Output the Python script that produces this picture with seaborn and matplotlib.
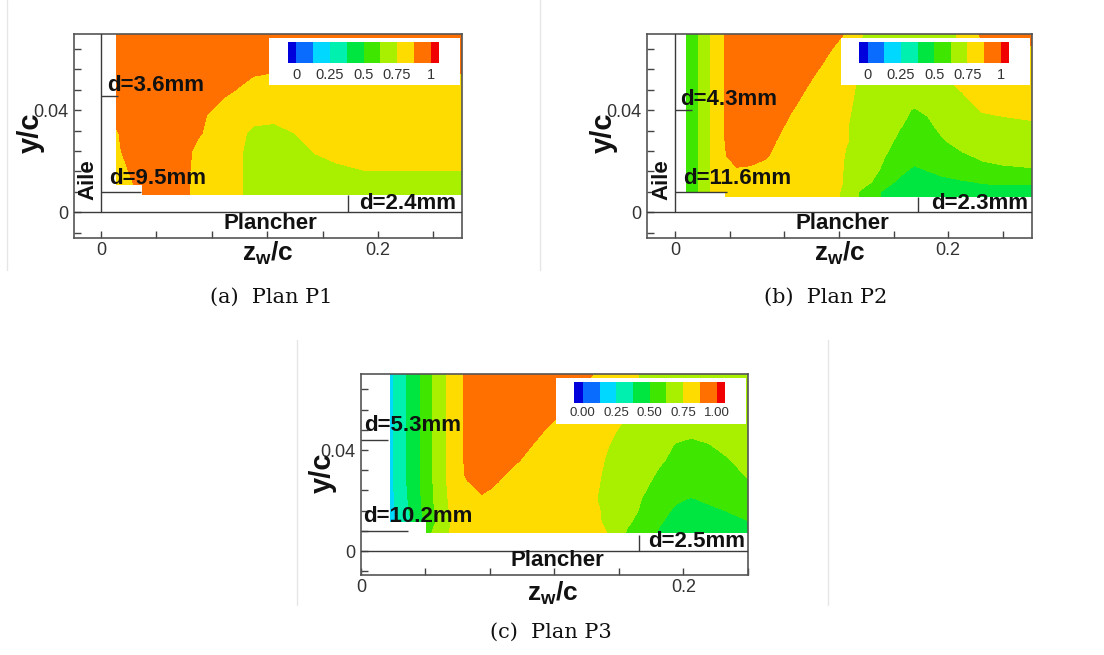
import numpy as np
import matplotlib
matplotlib.use("Agg")
import matplotlib.pyplot as plt
from matplotlib.colors import ListedColormap, BoundaryNorm
from matplotlib.lines import Line2D
from matplotlib.ticker import FixedFormatter, FixedLocator
import seaborn as sns

sns.set_theme(style="ticks")
plt.rcParams["font.family"] = ["Liberation Sans", "DejaVu Sans"]
plt.rcParams["mathtext.fontset"] = "custom"
plt.rcParams["mathtext.rm"] = "Liberation Sans"
plt.rcParams["mathtext.bf"] = "Liberation Sans:bold"
plt.rcParams["mathtext.it"] = "Liberation Sans:italic"

# colour levels of the flood (tecplot style legend)
levels = [-0.0625, 0.0, 0.125, 0.25, 0.375, 0.5, 0.625, 0.75, 0.875, 1.0, 1.0625]
band_colors = ["#0000dc", "#0a6cff", "#00d8ff", "#00f0b0", "#00e640",
               "#3ee600", "#a8f000", "#ffdc00", "#ff7000", "#f00000"]
cbar_ticks = [0, 0.25, 0.5, 0.75, 1.0]
cbar_labels_ab = ["0", "0.25", "0.5", "0.75", "1"]
cbar_labels_c = ["0.00", "0.25", "0.50", "0.75", "1.00"]

x_ticks = [0, 0.04, 0.08, 0.12, 0.16, 0.2, 0.24]
x_ticklabels = ["0", "", "", "", "", "0.2", ""]
y_ticks = [-0.008, 0, 0.008, 0.016, 0.024, 0.032, 0.04, 0.048, 0.056, 0.064]
y_ticklabels = ["", "0", "", "", "", "", "0.04", "", "", ""]

nan = np.nan

# ---- Plan P1 ----
z_a = [0.0113, 0.02, 0.03, 0.045, 0.06, 0.07, 0.08, 0.095, 0.11, 0.125, 0.14,
       0.155, 0.17, 0.19, 0.21, 0.235, 0.2606]
y_a = [0.0068, 0.011, 0.017, 0.024, 0.031, 0.038, 0.045, 0.052, 0.06, 0.07]
u_a = [
    [nan, nan, 0.90, 0.95, 0.90, 0.83, 0.81, 0.78, 0.72, 0.69, 0.69, 0.68, 0.68, 0.69, 0.69, 0.69, 0.69],
    [0.80, 0.85, 0.92, 0.95, 0.90, 0.83, 0.81, 0.78, 0.72, 0.69, 0.69, 0.69, 0.69, 0.69, 0.69, 0.69, 0.69],
    [0.80, 0.88, 0.95, 0.95, 0.91, 0.83, 0.81, 0.78, 0.72, 0.69, 0.69, 0.70, 0.73, 0.755, 0.755, 0.755, 0.755],
    [0.84, 0.93, 0.95, 0.95, 0.92, 0.84, 0.81, 0.78, 0.72, 0.69, 0.69, 0.76, 0.79, 0.80, 0.80, 0.80, 0.80],
    [0.86, 0.94, 0.95, 0.95, 0.93, 0.89, 0.84, 0.79, 0.73, 0.72, 0.75, 0.78, 0.80, 0.80, 0.80, 0.80, 0.80],
    [0.92, 0.95, 0.95, 0.95, 0.94, 0.90, 0.86, 0.82, 0.78, 0.775, 0.78, 0.80, 0.81, 0.81, 0.81, 0.81, 0.81],
    [0.95, 0.95, 0.95, 0.95, 0.95, 0.94, 0.91, 0.85, 0.82, 0.81, 0.81, 0.81, 0.82, 0.82, 0.82, 0.82, 0.82],
    [0.95, 0.95, 0.95, 0.95, 0.95, 0.95, 0.95, 0.93, 0.86, 0.84, 0.845, 0.85, 0.87, 0.89, 0.865, 0.85, 0.85],
    [0.95, 0.95, 0.95, 0.95, 0.95, 0.95, 0.95, 0.95, 0.95, 0.94, 0.93, 0.93, 0.93, 0.94, 0.93, 0.93, 0.93],
    [0.95, 0.95, 0.95, 0.95, 0.95, 0.95, 0.95, 0.95, 0.95, 0.95, 0.95, 0.95, 0.95, 0.95, 0.95, 0.95, 0.95],
]

# ---- Plan P2 ----
z_b = [0.0086, 0.018, 0.027, 0.037, 0.045, 0.055, 0.065, 0.075, 0.085, 0.095, 0.105, 0.115,
       0.125, 0.135, 0.145, 0.155, 0.165, 0.175, 0.185, 0.195, 0.21, 0.225, 0.24, 0.2611]
y_b = [0.0061, 0.0081, 0.012, 0.017, 0.022, 0.028, 0.034, 0.04, 0.046, 0.052, 0.06, 0.07]
u_b = [
    [nan, nan, nan, 0.80, 0.81, 0.82, 0.82, 0.82, 0.82, 0.81, 0.80, 0.79, 0.72, 0.617, 0.539, 0.47, 0.45, 0.44, 0.44, 0.45, 0.46, 0.46, 0.46, 0.46],
    [0.58, 0.63, 0.76, 0.80, 0.81, 0.82, 0.82, 0.82, 0.82, 0.81, 0.80, 0.79, 0.72, 0.62, 0.54, 0.47, 0.45, 0.44, 0.44, 0.45, 0.46, 0.46, 0.46, 0.46],
    [0.58, 0.63, 0.76, 0.80, 0.82, 0.83, 0.83, 0.83, 0.82, 0.81, 0.80, 0.79, 0.739, 0.682, 0.62, 0.542, 0.47, 0.45, 0.45, 0.46, 0.49, 0.51, 0.52, 0.52],
    [0.58, 0.63, 0.76, 0.82, 0.87, 0.86, 0.84, 0.83, 0.82, 0.81, 0.80, 0.79, 0.74, 0.697, 0.649, 0.60, 0.54, 0.48, 0.51, 0.55, 0.58, 0.60, 0.61, 0.62],
    [0.58, 0.63, 0.76, 0.87, 0.91, 0.92, 0.89, 0.85, 0.83, 0.81, 0.80, 0.79, 0.745, 0.707, 0.664, 0.62, 0.58, 0.56, 0.57, 0.59, 0.61, 0.64, 0.66, 0.67],
    [0.58, 0.63, 0.76, 0.88, 0.93, 0.94, 0.92, 0.87, 0.83, 0.81, 0.80, 0.79, 0.755, 0.73, 0.69, 0.65, 0.60, 0.57, 0.58, 0.615, 0.66, 0.69, 0.70, 0.70],
    [0.58, 0.63, 0.76, 0.88, 0.93, 0.95, 0.94, 0.90, 0.85, 0.82, 0.80, 0.79, 0.755, 0.73, 0.70, 0.67, 0.63, 0.60, 0.61, 0.645, 0.69, 0.72, 0.735, 0.745],
    [0.58, 0.63, 0.76, 0.88, 0.93, 0.95, 0.95, 0.93, 0.88, 0.84, 0.81, 0.79, 0.76, 0.735, 0.71, 0.68, 0.64, 0.62, 0.635, 0.68, 0.72, 0.755, 0.76, 0.76],
    [0.58, 0.63, 0.76, 0.88, 0.93, 0.95, 0.95, 0.95, 0.92, 0.865, 0.83, 0.80, 0.78, 0.73, 0.70, 0.68, 0.67, 0.655, 0.665, 0.70, 0.745, 0.78, 0.78, 0.78],
    [0.58, 0.63, 0.76, 0.88, 0.95, 0.95, 0.95, 0.95, 0.94, 0.90, 0.85, 0.82, 0.79, 0.74, 0.72, 0.71, 0.71, 0.71, 0.72, 0.74, 0.77, 0.80, 0.80, 0.80],
    [0.58, 0.63, 0.76, 0.88, 0.95, 0.95, 0.95, 0.95, 0.95, 0.93, 0.90, 0.85, 0.80, 0.74, 0.72, 0.72, 0.72, 0.72, 0.72, 0.72, 0.76, 0.82, 0.82, 0.82],
    [0.58, 0.63, 0.76, 0.88, 0.95, 0.95, 0.95, 0.95, 0.95, 0.95, 0.93, 0.91, 0.87, 0.76, 0.72, 0.72, 0.72, 0.72, 0.72, 0.72, 0.76, 0.90, 0.92, 0.92],
]

# ---- Plan P3 ----
z_c = [0.018, 0.024, 0.0356, 0.0405, 0.048, 0.057, 0.066, 0.075, 0.085, 0.095, 0.105, 0.115,
       0.125, 0.135, 0.145, 0.155, 0.165, 0.175, 0.185, 0.195, 0.205, 0.215, 0.228, 0.24]
y_c = [0.0072, 0.0116, 0.016, 0.0205, 0.0245, 0.03, 0.036, 0.042, 0.048, 0.055, 0.062, 0.07]
u_c = [
    [nan, nan, nan, 0.58, 0.68, 0.77, 0.80, 0.81, 0.82, 0.82, 0.82, 0.81, 0.80, 0.79, 0.78, 0.74, 0.615, 0.55, 0.49, 0.46, 0.45, 0.45, 0.45, 0.45],
    [0.19, 0.27, 0.44, 0.53, 0.65, 0.77, 0.80, 0.82, 0.83, 0.83, 0.83, 0.82, 0.81, 0.80, 0.77, 0.72, 0.64, 0.59, 0.51, 0.47, 0.45, 0.45, 0.47, 0.49],
    [0.20, 0.29, 0.46, 0.545, 0.66, 0.78, 0.81, 0.83, 0.84, 0.84, 0.84, 0.83, 0.82, 0.81, 0.765, 0.72, 0.66, 0.61, 0.55, 0.48, 0.46, 0.47, 0.505, 0.58],
    [0.21, 0.30, 0.47, 0.555, 0.67, 0.79, 0.84, 0.86, 0.85, 0.85, 0.84, 0.83, 0.82, 0.80, 0.755, 0.72, 0.67, 0.62, 0.57, 0.52, 0.49, 0.52, 0.55, 0.60],
    [0.21, 0.31, 0.475, 0.56, 0.675, 0.80, 0.85, 0.89, 0.86, 0.85, 0.84, 0.83, 0.82, 0.80, 0.76, 0.72, 0.68, 0.635, 0.59, 0.56, 0.55, 0.56, 0.58, 0.61],
    [0.22, 0.31, 0.48, 0.56, 0.68, 0.80, 0.89, 0.93, 0.89, 0.85, 0.84, 0.83, 0.82, 0.81, 0.77, 0.72, 0.69, 0.66, 0.61, 0.58, 0.57, 0.575, 0.60, 0.63],
    [0.22, 0.31, 0.48, 0.56, 0.68, 0.80, 0.90, 0.94, 0.93, 0.89, 0.85, 0.83, 0.82, 0.81, 0.78, 0.73, 0.71, 0.68, 0.64, 0.60, 0.58, 0.59, 0.62, 0.66],
    [0.22, 0.31, 0.48, 0.56, 0.68, 0.80, 0.90, 0.95, 0.95, 0.92, 0.88, 0.84, 0.82, 0.81, 0.80, 0.745, 0.72, 0.70, 0.67, 0.62, 0.60, 0.62, 0.65, 0.68],
    [0.22, 0.31, 0.48, 0.56, 0.68, 0.80, 0.90, 0.95, 0.95, 0.95, 0.92, 0.87, 0.83, 0.81, 0.80, 0.77, 0.72, 0.70, 0.68, 0.66, 0.655, 0.66, 0.68, 0.70],
    [0.22, 0.31, 0.48, 0.56, 0.68, 0.80, 0.90, 0.95, 0.95, 0.95, 0.95, 0.92, 0.875, 0.83, 0.81, 0.79, 0.76, 0.73, 0.70, 0.70, 0.70, 0.70, 0.70, 0.70],
    [0.22, 0.31, 0.48, 0.56, 0.68, 0.80, 0.90, 0.95, 0.95, 0.95, 0.95, 0.95, 0.92, 0.87, 0.83, 0.80, 0.78, 0.74, 0.70, 0.70, 0.70, 0.70, 0.70, 0.70],
    [0.22, 0.31, 0.48, 0.56, 0.68, 0.80, 0.90, 0.95, 0.95, 0.95, 0.95, 0.95, 0.95, 0.92, 0.87, 0.82, 0.78, 0.74, 0.70, 0.70, 0.70, 0.70, 0.70, 0.70],
]

# annotations (distance labels and their marker lines)
d_labels_a = ["d=3.6mm", "d=9.5mm", "d=2.4mm"]
d_pos_a = [(0.0041, 0.0499), (0.006, 0.0133), (0.2563, 0.0035)]
d_lines_a = [(0.0456, 0.012), (0.0081, 0.029)]
d_vline_a = (0.178, 0.0068)

d_labels_b = ["d=4.3mm", "d=11.6mm", "d=2.3mm"]
d_pos_b = [(0.0037, 0.0443), (0.0056, 0.0133), (0.2587, 0.0035)]
d_lines_b = [(0.040, 0.0122), (0.0081, 0.038)]
d_vline_b = (0.178, 0.0061)

d_labels_c = ["d=5.3mm", "d=10.2mm", "d=2.5mm"]
d_pos_c = [(0.0019, 0.0499), (0.0012, 0.0136), (0.2384, 0.0037)]
d_lines_c = [(0.044, 0.0166), (0.0079, 0.029)]
d_vline_c = (0.1728, 0.0065)

cmap = ListedColormap(sns.color_palette(band_colors))
norm = BoundaryNorm(levels, cmap.N)

fig = plt.figure(figsize=(11.04, 6.55), dpi=100)
fig.patch.set_facecolor("white")

line_col = "#3a3a3a"


def draw_panel(rect, z, y, u, xlim, ylim, labels, pos, dlines, dvline,
               plancher_xy, aile_xy, cbar_labels, cbar_size, ylab_xy, xlab_xy):
    ax = fig.add_axes(rect)
    ax.contourf(np.array(z), np.array(y), np.array(u), levels=levels,
                cmap=cmap, norm=norm, corner_mask=False, zorder=1)
    ax.set_xlim(*xlim)
    ax.set_ylim(*ylim)

    ax.axhline(0, color=line_col, lw=1.0, zorder=3)
    if aile_xy is not None:
        ax.axvline(0, ymin=(0 - ylim[0]) / (ylim[1] - ylim[0]), ymax=1,
                   color=line_col, lw=1.0, zorder=3)
        ax.text(aile_xy[0], aile_xy[1], "Aile", rotation=90, ha="center",
                va="center", fontsize=16, fontweight="bold", color="#111", zorder=4)
    for yy, zend in dlines:
        ax.hlines(yy, 0, zend, color=line_col, lw=1.0, zorder=3)
    ax.vlines(dvline[0], 0, dvline[1], color=line_col, lw=1.0, zorder=3)

    for i, (lab, (tx, ty)) in enumerate(zip(labels, pos)):
        ax.text(tx, ty, lab, ha="right" if i == 2 else "left", va="center",
                fontsize=16, fontweight="bold", color="#111", zorder=4)
    ax.text(plancher_xy[0], plancher_xy[1], "Plancher", ha="center", va="center",
            fontsize=16, fontweight="bold", color="#111", zorder=4)

    ax.set_xticks(x_ticks)
    ax.set_xticklabels(x_ticklabels)
    ax.set_yticks(y_ticks)
    ax.set_yticklabels(y_ticklabels)
    ax.tick_params(direction="in", length=5, width=1, color="#444",
                   labelsize=13, labelcolor="#333", top=False, right=False)
    ax.tick_params(axis="x", pad=3)
    ax.tick_params(axis="y", pad=4)
    for s in ax.spines.values():
        s.set_color("#555")
        s.set_linewidth(1.2)

    ax.set_xlabel(r"z$_{\mathbf{w}}$/c", fontsize=19, fontweight="bold", color="#111")
    ax.set_ylabel("y/c", fontsize=21, fontweight="bold", color="#111")
    ax.xaxis.set_label_coords(*xlab_xy)
    ax.yaxis.set_label_coords(*ylab_xy)

    box = ax.inset_axes([0.503, 0.752, 0.492, 0.228])
    box.set_facecolor("white")
    box.set_xticks([])
    box.set_yticks([])
    for s in box.spines.values():
        s.set_visible(False)
    box.set_zorder(5)

    cax = ax.inset_axes([0.552, 0.856, 0.389, 0.106])
    cax.set_zorder(6)
    sm = plt.cm.ScalarMappable(norm=norm, cmap=cmap)
    cb = fig.colorbar(sm, cax=cax, orientation="horizontal",
                      spacing="proportional",
                      ticks=FixedLocator(cbar_ticks),
                      format=FixedFormatter(cbar_labels))
    cb.outline.set_visible(False)
    cb.minorticks_off()
    cb.ax.tick_params(which="both", length=0, pad=3, labelsize=cbar_size, labelcolor="#333")
    return ax


draw_panel([0.0670, 0.6366, 0.3514, 0.3115], z_a, y_a, u_a,
           (-0.0195, 0.2606), (-0.0101, 0.0699), d_labels_a, d_pos_a,
           d_lines_a, d_vline_a, (0.122, -0.0046), (-0.0092, 0.0127),
           cbar_labels_ab, 10.5, (-0.075, 0.515), (0.5, -0.01))

draw_panel([0.5863, 0.6366, 0.3482, 0.3115], z_b, y_b, u_b,
           (-0.0203, 0.2611), (-0.0101, 0.0699), d_labels_b, d_pos_b,
           d_lines_b, d_vline_b, (0.1228, -0.0046), (-0.0098, 0.0127),
           cbar_labels_ab, 10.5, (-0.076, 0.515), (0.5, -0.01))

draw_panel([0.3270, 0.1221, 0.3503, 0.3069], z_c, y_c, u_c,
           (0.0, 0.240), (-0.0095, 0.0701), d_labels_c, d_pos_c,
           d_lines_c, d_vline_c, (0.122, -0.0036), None,
           cbar_labels_c, 9.5, (-0.063, 0.507), (0.497, -0.025))

# captions
cap_kw = dict(ha="center", va="center", fontsize=15, family="DejaVu Serif", color="#111")
fig.text(271 / 1104, 1 - 297 / 655, "(a)  Plan P1", **cap_kw)
fig.text(826 / 1104, 1 - 297 / 655, "(b)  Plan P2", **cap_kw)
fig.text(551 / 1104, 1 - 632 / 655, "(c)  Plan P3", **cap_kw)

# faint borders of the sub-images
for xp, y0, y1 in [(7, 0, 270), (540, 0, 270), (297, 340, 605), (828, 340, 605)]:
    fig.add_artist(Line2D([xp / 1104, xp / 1104], [1 - y0 / 655, 1 - y1 / 655],
                          transform=fig.transFigure, color="#e6e6e6", lw=1))

fig.savefig("out.png", dpi=100, facecolor="white")
